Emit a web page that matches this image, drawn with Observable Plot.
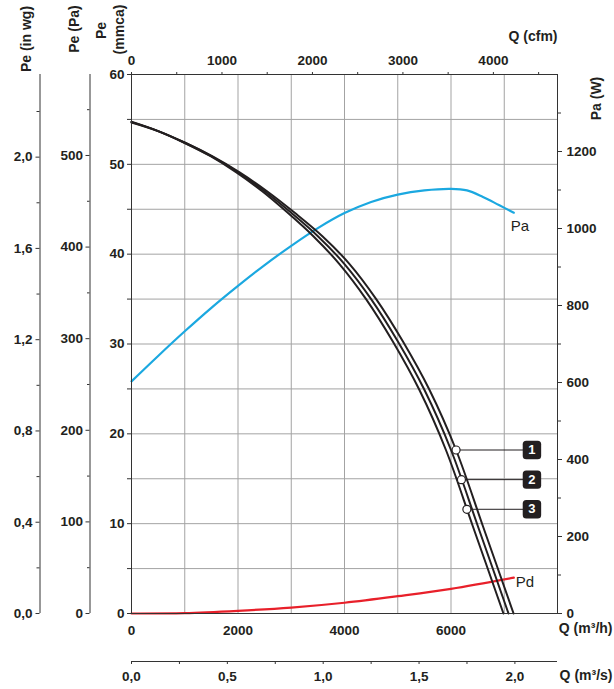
<!DOCTYPE html>
<html><head><meta charset="utf-8">
<script src="https://cdn.jsdelivr.net/npm/d3@7"></script>
<script src="https://cdn.jsdelivr.net/npm/@observablehq/plot@0.6"></script>
<style>
html,body{margin:0;padding:0;background:#fff}
#chart svg{display:block}
</style>
</head><body><div id="chart"></div>
<script>
// ---- data (Q in m3/h, Pe in mmca, power in W) ----
const curve1 = [[0,54.75],[505,53.7],[1010,52.4],[1515,50.9],[2030,49.1],[2545,47.0],[3065,44.6],[3585,42.0],[4095,38.9],[4595,35.0],[5095,30.3],[5595,24.9],[6095,18.2],[6595,9.8],[7175,0]];
const curve2 = [[0,54.7],[500,53.7],[1000,52.4],[1500,50.9],[2000,49.1],[2500,47.0],[3000,44.6],[3500,42.0],[4000,38.9],[4500,35.0],[5000,30.3],[5500,24.9],[6000,18.2],[6500,9.8],[7080,0]];
const curve3 = [[0,54.65],[495,53.7],[990,52.4],[1485,50.9],[1970,49.1],[2455,47.0],[2935,44.6],[3415,42.0],[3905,38.9],[4405,35.0],[4905,30.3],[5405,24.9],[5905,18.2],[6405,9.8],[6985,0]];
const powerPa = [[0,603],[500,669],[1000,733],[1500,794],[2000,851],[2500,905],[3000,955],[3500,1001],[4000,1040],[4500,1069],[5000,1088],[5500,1099],[6000,1103],[6300,1099],[6600,1082],[6900,1061],[7180,1041]];
const powerPd = [[0,0],[1000,1],[2000,7],[3000,15.5],[4000,28],[5000,45],[6000,64],[7180,93]];

const markerIds = ["1","2","3"];
const markerQ = [6095, 6196, 6298];
const markerPe = [18.2, 14.9, 11.6];

// ---- tick labels ----
const gridQ = [0,1000,2000,3000,4000,5000,6000,7000,8000];
const gridPe = [0,5,10,15,20,25,30,35,40,45,50,55,60];
const qM3hTicks = [0,2000,4000,6000];
const qM3sTicks = [0,0.5,1,1.5,2];
const qM3sMinor = [0.25,0.75,1.25,1.75];
const qCfmTicks = [0,1000,2000,3000,4000];
const qCfmMinor = [500,1500,2500,3500,4500];
const peMmcaTicks = [0,10,20,30,40,50,60];
const peMmcaMinor = [5,15,25,35,45,55];
const pePaTicks = [0,100,200,300,400,500];
const pePaMinor = [50,150,250,350,450,550];
const peInwgTicks = [0,0.4,0.8,1.2,1.6,2.0];
const peInwgMinor = [0.2,0.6,1.0,1.4,1.8,2.2];
const powerTicks = [0,200,400,600,800,1000,1200];
const powerMinor = [100,300,500,700,900,1100,1300];

// ---- unit conversions ----
const PA_TO_MMCA = 1/9.80665;
const INWG_TO_MMCA = 25.4;
const W_TO_Y = 60/1400;
const CFM_TO_M3H = 1.69901;
const M3S_TO_M3H = 3600;

const ink = "#231f20";
const blue = "#1ba8e0";
const red = "#e8202a";
const gridColor = "#a3a3a3";
const font = "'Liberation Sans', Arial, Helvetica, sans-serif";
const comma = v => v.toFixed(1).replace(".", ",");

const markers = markerIds.map((id, i) => ({id, q: markerQ[i], p: markerPe[i]}));

const roundSquare = {
  draw(ctx, size) {
    const s = Math.sqrt(size), h = s / 2, r = 3.5;
    ctx.moveTo(-h + r, -h);
    ctx.lineTo(h - r, -h); ctx.arcTo(h, -h, h, -h + r, r);
    ctx.lineTo(h, h - r); ctx.arcTo(h, h, h - r, h, r);
    ctx.lineTo(-h + r, h); ctx.arcTo(-h, h, -h, h - r, r);
    ctx.lineTo(-h, -h + r); ctx.arcTo(-h, -h, -h + r, -h, r);
    ctx.closePath();
  }
};

const blank = () => "";
const FS = 13.5;
const smooth = "catmull-rom";

const plot = Plot.plot({
  width: 614, height: 689,
  marginTop: 74, marginBottom: 76, marginLeft: 131, marginRight: 57,
  style: {fontFamily: font, fontSize: FS + "px", fontWeight: "bold", color: ink, background: "#fff", overflow: "visible"},
  x: {domain: [0, 8000], axis: null},
  y: {domain: [0, 60], axis: null},
  marks: [
    Plot.gridX(gridQ, {stroke: gridColor, strokeOpacity: 1, strokeWidth: 1}),
    Plot.gridY(gridPe, {stroke: gridColor, strokeOpacity: 1, strokeWidth: 1}),
    Plot.line(powerPd, {x: d => d[0], y: d => d[1] * W_TO_Y, stroke: red, strokeWidth: 2.2, curve: smooth}),
    Plot.line(powerPa, {x: d => d[0], y: d => d[1] * W_TO_Y, stroke: blue, strokeWidth: 2.2, curve: smooth}),
    Plot.line(curve1, {x: d => d[0], y: d => d[1], stroke: ink, strokeWidth: 2, curve: smooth}),
    Plot.line(curve2, {x: d => d[0], y: d => d[1], stroke: ink, strokeWidth: 2, curve: smooth}),
    Plot.line(curve3, {x: d => d[0], y: d => d[1], stroke: ink, strokeWidth: 2, curve: smooth}),
    Plot.frame({stroke: "#333", strokeWidth: 1}),

    // main Pe (mmca) axis
    Plot.axisY(peMmcaTicks, {anchor: "left", tickSize: 4, tickPadding: 3, label: null, stroke: "#333"}),
    Plot.axisY(peMmcaMinor, {anchor: "left", tickSize: 4, tickFormat: blank, label: null, stroke: "#333"}),
    // Pe (Pa) axis
    Plot.ruleX([0], {dx: -41.5, stroke: "#333"}),
    Plot.axisY(pePaTicks.map(v => v * PA_TO_MMCA), {anchor: "left", dx: -41.5, tickSize: 4, tickPadding: 3, label: null, stroke: "#333", tickFormat: d => String(Math.round(d / PA_TO_MMCA))}),
    Plot.axisY(pePaMinor.map(v => v * PA_TO_MMCA), {anchor: "left", dx: -41.5, tickSize: 2.5, tickFormat: blank, label: null, stroke: "#333"}),
    // Pe (in wg) axis
    Plot.ruleX([0], {dx: -91.5, stroke: "#333"}),
    Plot.axisY(peInwgTicks.map(v => v * INWG_TO_MMCA), {anchor: "left", dx: -91.5, tickSize: 4, tickPadding: 3.5, label: null, stroke: "#333", tickFormat: d => comma(d / INWG_TO_MMCA)}),
    Plot.axisY(peInwgMinor.map(v => v * INWG_TO_MMCA), {anchor: "left", dx: -91.5, tickSize: 3, tickFormat: blank, label: null, stroke: "#333"}),
    // Power axis (right)
    Plot.axisY(powerTicks.map(v => v * W_TO_Y), {anchor: "right", tickSize: 4, tickPadding: 5, label: null, stroke: "#333", tickFormat: d => String(Math.round(d / W_TO_Y))}),
    Plot.axisY(powerMinor.map(v => v * W_TO_Y), {anchor: "right", tickSize: 3, tickFormat: blank, label: null, stroke: "#333"}),
    // top cfm axis
    Plot.axisX(qCfmTicks.map(v => v * CFM_TO_M3H), {anchor: "top", tickSize: 3, tickPadding: 7, label: null, stroke: "#333", tickFormat: d => String(Math.round(d / CFM_TO_M3H))}),
    Plot.axisX(qCfmMinor.map(v => v * CFM_TO_M3H), {anchor: "top", tickSize: 3, tickFormat: blank, label: null, stroke: "#333"}),
    // bottom m3/h axis
    Plot.axisX(qM3hTicks, {anchor: "bottom", tickSize: 0, tickPadding: 12, label: null, tickFormat: d => String(d)}),
    // bottom m3/s axis
    Plot.ruleY([0], {dy: 48, stroke: "#333"}),
    Plot.axisX(qM3sTicks.map(v => v * M3S_TO_M3H), {anchor: "bottom", dy: 48, tickSize: 3, tickPadding: 7, label: null, stroke: "#333", tickFormat: d => comma(d / M3S_TO_M3H)}),
    Plot.axisX(qM3sMinor.map(v => v * M3S_TO_M3H), {anchor: "bottom", dy: 48, tickSize: 3, tickFormat: blank, label: null, stroke: "#333"}),

    // markers
    Plot.link(markers, {x1: "q", y1: "p", x2: 7520, y2: "p", stroke: ink, strokeWidth: 1}),
    Plot.dot(markers, {x: "q", y: "p", r: 4, fill: "white", stroke: ink, strokeWidth: 1.2}),
    Plot.dot(markers, {x: 7520, y: "p", r: 10.4, symbol: roundSquare, fill: ink, stroke: "none"}),
    Plot.text(markers, {x: 7520, y: "p", text: "id", fill: "white", fontSize: 13, fontWeight: "bold"}),

    // curve labels
    Plot.text([powerPa[powerPa.length - 1]], {x: d => d[0], y: d => d[1] * W_TO_Y, text: () => "Pa", dx: -3, dy: 13, textAnchor: "start", fontWeight: "normal", fontSize: 15, fill: ink}),
    Plot.text([powerPd[powerPd.length - 1]], {x: d => d[0], y: d => d[1] * W_TO_Y, text: () => "Pd", dx: 2, dy: 4, textAnchor: "start", fontWeight: "normal", fontSize: 15, fill: ink}),

    // axis titles
    Plot.text(["Pe (in wg)"], {frameAnchor: "top-left", dx: -110.5, dy: -35.5, rotate: -90, textAnchor: "middle", text: d => d, fontSize: 14}),
    Plot.text(["Pe (Pa)"], {frameAnchor: "top-left", dx: -62, dy: -45.5, rotate: -90, textAnchor: "middle", text: d => d, fontSize: 14}),
    Plot.text(["Pe"], {frameAnchor: "top-left", dx: -35, dy: -44, rotate: -90, textAnchor: "middle", text: d => d, fontSize: 14}),
    Plot.text(["(mmca)"], {frameAnchor: "top-left", dx: -17.5, dy: -45, rotate: -90, textAnchor: "middle", text: d => d, fontSize: 14}),
    Plot.text(["Pa (W)"], {frameAnchor: "top-right", dx: 34, dy: 24, rotate: -90, textAnchor: "middle", text: d => d, fontSize: 14}),
    Plot.text(["Q (cfm)"], {frameAnchor: "top-right", dx: 0, dy: -43, textAnchor: "end", text: d => d, fontSize: 14}),
    Plot.text(["Q (m³/h)"], {frameAnchor: "bottom-right", dx: 55, dy: 19, textAnchor: "end", text: d => d, fontSize: 14}),
    Plot.text(["Q (m³/s)"], {frameAnchor: "bottom-right", dx: 55, dy: 66, textAnchor: "end", text: d => d, fontSize: 14})
  ]
});
document.getElementById("chart").appendChild(plot);
</script>
</body></html>
